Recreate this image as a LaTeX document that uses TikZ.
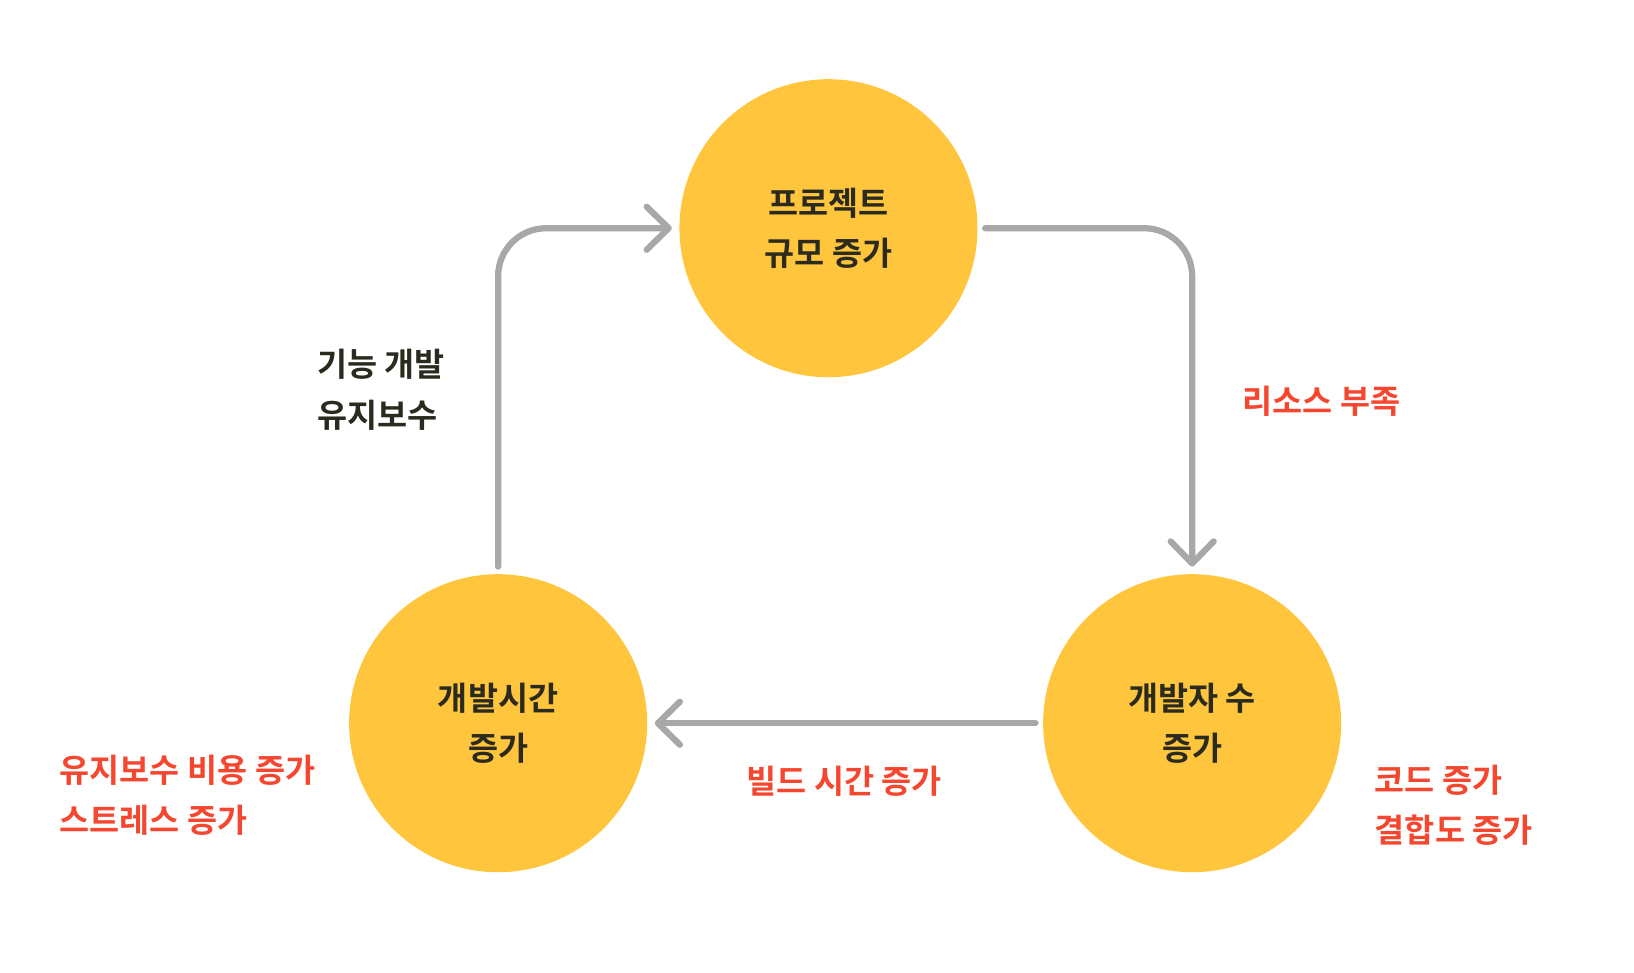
\documentclass[tikz,border=0pt]{standalone}
\usepackage{fontspec}
\setmainfont{Noto Sans CJK KR}[BoldFont={* Bold}]
\newfontfamily\krbold{Noto Sans CJK KR Bold}
\usepackage{xcolor}
\usetikzlibrary{arrows.meta,positioning}
\definecolor{cyclefill}{HTML}{FEC53D}
\definecolor{darktext}{HTML}{2B2A1F}
\definecolor{warnred}{HTML}{F5472F}
\definecolor{flowgray}{HTML}{A8A8A8}

\begin{document}
\begin{tikzpicture}[x=0.2084mm,y=-0.2084mm,
    stage/.style={circle,fill=cyclefill,minimum size=59.6mm,inner sep=0pt,
      align=center,text=darktext,font=\krbold\fontsize{18.6}{28.5}\selectfont},
    note/.style={align=left,anchor=west,inner sep=0pt,text=warnred,
      font=\krbold\fontsize{18.6}{28.5}\selectfont},
    flow/.style={draw=flowgray,line width=1.25mm,line cap=round,line join=round,
      rounded corners=9.6mm,shorten <=1.46mm,shorten >=1.46mm,
      -{Straight Barb[length=4.4mm,width=8.6mm,line cap=round,line join=round]}}]
  \useasboundingbox (0,0) rectangle (1568,933);
  % the three stages
  \node [stage] (scope) at (795,219) {프로젝트\\규모 증가};
  \node [stage] (time)  at (478,694) {개발시간\\증가};
  \node [stage] (staff) at (1144,694) {개발자 수\\증가};
  % cycle
  \draw [flow] (scope.east) -| (staff.north);
  \draw [flow] (staff.west) -- (time.east);
  \draw [flow] (time.north) |- (scope.west);
  % side notes
  \node [note,text=darktext] (work) at (304,374) {기능 개발\\유지보수};
  \node [note] (lack) at (1192,385) {리소스 부족};
  \node [note,anchor=center] (build) at (810,750) {빌드 시간 증가};
  \node [note] (cost) at (57,763) {유지보수 비용 증가\\스트레스 증가};
  \node [note] (code) at (1319,773) {코드 증가\\결합도 증가};
\end{tikzpicture}
\end{document}
